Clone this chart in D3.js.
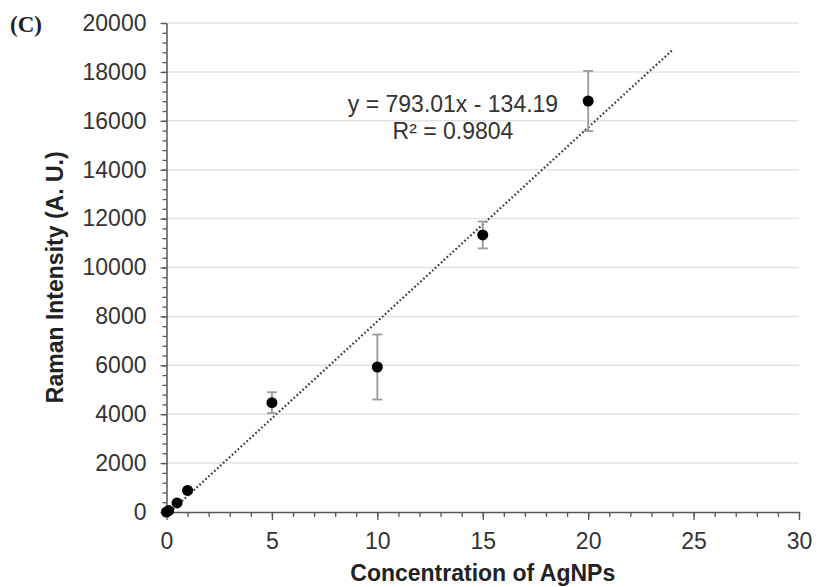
<!DOCTYPE html>
<html lang='en'>
<head>
    <meta charset='UTF-8' />
    <title>Raman Intensity vs Concentration of AgNPs</title>
    <script src="https://cdn.jsdelivr.net/npm/d3@7"></script>
    <style>
        html,
        body {
            margin: 0;
            background: white;
        }
        text {
            font-family: "Liberation Sans", Arial, sans-serif;
        }
    </style>
</head>
<body>
    <div id="container"></div>
    <script>
        // data
        const concentrations = [0, 0.1, 0.5, 1, 5, 10, 15, 20];
        const intensities = [0, 60, 370, 880, 4470, 5930, 11330, 16810];
        const errors = [0, 0, 0, 0, 430, 1330, 550, 1230];

        // linear trendline reported on the chart
        const slope = 793.01;
        const intercept = -134.19;
        const rSquared = 0.9804;
        const trendEnd = 24;

        const xTicks = [0, 5, 10, 15, 20, 25, 30];
        const yTicks = [0, 2000, 4000, 6000, 8000, 10000, 12000, 14000, 16000, 18000, 20000];

        const width = 817, height = 587;
        const margin = { top: 23, right: 18, bottom: 75, left: 166.5 };

        const svg = d3.select("#container")
            .append("svg")
            .attr("width", width)
            .attr("height", height);

        const x = d3.scaleLinear().domain([0, 30]).range([margin.left, width - margin.right]);
        const y = d3.scaleLinear().domain([0, 20000]).range([height - margin.bottom, margin.top]);

        // gridlines
        svg.append("g")
            .selectAll("line")
            .data(yTicks.filter(d => d > 0))
            .join("line")
            .attr("x1", x(0))
            .attr("x2", x(30))
            .attr("y1", d => y(d))
            .attr("y2", d => y(d))
            .attr("stroke", "#e3e3e3")
            .attr("stroke-width", 1.5);

        // minor ticks
        svg.append("g")
            .attr("transform", `translate(0,${y(0)})`)
            .call(d3.axisBottom(x).tickValues(d3.range(0, 31, 1)).tickSize(5).tickFormat(""))
            .call(g => g.select(".domain").remove())
            .call(g => g.selectAll("line").attr("stroke", "#555").attr("stroke-width", 1.3));

        svg.append("g")
            .attr("transform", `translate(${x(0)},0)`)
            .call(d3.axisLeft(y).tickValues(d3.range(0, 20001, 400)).tickSize(4).tickFormat(""))
            .call(g => g.select(".domain").remove())
            .call(g => g.selectAll("line").attr("stroke", "#555").attr("stroke-width", 1.3));

        // major axes
        const xAxis = svg.append("g")
            .attr("transform", `translate(0,${y(0)})`)
            .call(d3.axisBottom(x).tickValues(xTicks).tickFormat(d3.format("d"))
                .tickSize(8).tickSizeOuter(0).tickPadding(13));

        const yAxis = svg.append("g")
            .attr("transform", `translate(${x(0)},0)`)
            .call(d3.axisLeft(y).tickValues(yTicks).tickFormat(d3.format("d"))
                .tickSize(6).tickSizeOuter(0).tickPadding(14));

        [xAxis, yAxis].forEach(g => {
            g.select(".domain").attr("stroke", "#555").attr("stroke-width", 1.5);
            g.selectAll(".tick line").attr("stroke", "#555").attr("stroke-width", 1.3);
            g.selectAll("text")
                .attr("font-family", "Liberation Sans, Arial, sans-serif")
                .attr("font-size", 23)
                .attr("fill", "#333");
        });

        // trendline (dotted), from where it crosses zero
        const trendStart = -intercept / slope;
        svg.append("line")
            .attr("x1", x(trendStart))
            .attr("y1", y(slope * trendStart + intercept))
            .attr("x2", x(trendEnd))
            .attr("y2", y(slope * trendEnd + intercept))
            .attr("stroke", "#333")
            .attr("stroke-width", 2.2)
            .attr("stroke-dasharray", "1.6,2.4");

        // error bars
        const points = concentrations.map((c, i) => ({ c: c, v: intensities[i], e: errors[i] }));
        const bars = svg.append("g")
            .selectAll("g")
            .data(points.filter(d => d.e > 0))
            .join("g")
            .attr("stroke", "#9a9a9a")
            .attr("stroke-width", 1.8);

        bars.append("line")
            .attr("x1", d => x(d.c)).attr("x2", d => x(d.c))
            .attr("y1", d => y(d.v - d.e)).attr("y2", d => y(d.v + d.e));
        bars.append("line")
            .attr("x1", d => x(d.c) - 5).attr("x2", d => x(d.c) + 5)
            .attr("y1", d => y(d.v + d.e)).attr("y2", d => y(d.v + d.e));
        bars.append("line")
            .attr("x1", d => x(d.c) - 5).attr("x2", d => x(d.c) + 5)
            .attr("y1", d => y(d.v - d.e)).attr("y2", d => y(d.v - d.e));

        // data points
        svg.append("g")
            .selectAll("circle")
            .data(points)
            .join("circle")
            .attr("cx", d => x(d.c))
            .attr("cy", d => y(d.v))
            .attr("r", 5.5)
            .attr("fill", "black");

        // equation label
        const eq = svg.append("text")
            .attr("x", 453)
            .attr("y", 112)
            .attr("text-anchor", "middle")
            .attr("font-size", 23)
            .attr("fill", "#333");
        eq.append("tspan").text(`y = ${slope}x - ${Math.abs(intercept)}`);
        eq.append("tspan")
            .attr("x", 453)
            .attr("dy", 27)
            .text(`R² = ${rSquared}`);

        // axis titles
        svg.append("text")
            .attr("x", x(15))
            .attr("y", 581)
            .attr("text-anchor", "middle")
            .attr("font-size", 23)
            .attr("font-weight", "bold")
            .attr("fill", "#222")
            .text("Concentration of AgNPs");

        svg.append("text")
            .attr("transform", `translate(63,${y(9600)}) rotate(-90)`)
            .attr("text-anchor", "middle")
            .attr("font-size", 23)
            .attr("font-weight", "bold")
            .attr("fill", "#222")
            .text("Raman Intensity (A. U.)");

        // panel label
        svg.append("text")
            .attr("x", 10)
            .attr("y", 32)
            .style("font-family", "'Liberation Serif', 'Times New Roman', serif")
            .attr("font-size", 23)
            .attr("font-weight", "bold")
            .attr("fill", "#222")
            .text("(C)");
    </script>
</body>
</html>
